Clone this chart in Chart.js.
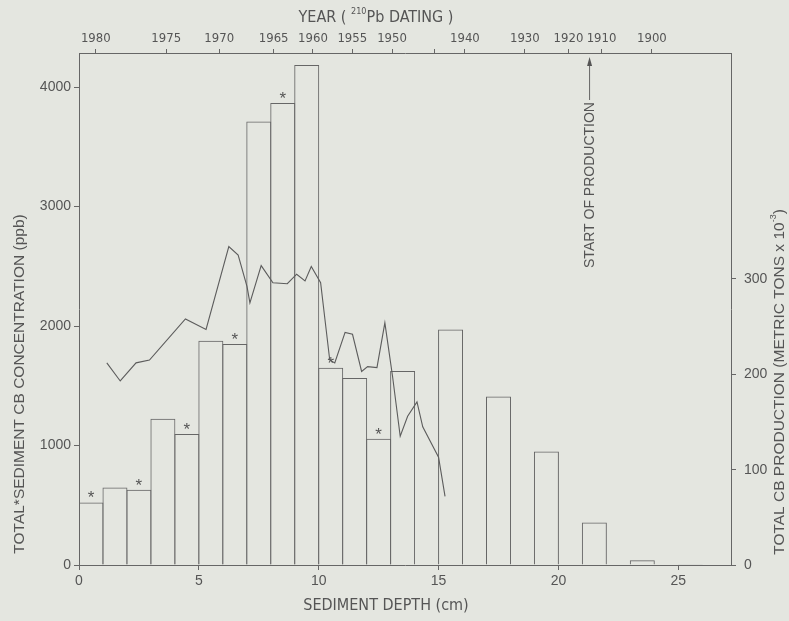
<!DOCTYPE html>
<html>
<head>
<meta charset="utf-8">
<script src="https://cdn.jsdelivr.net/npm/chart.js@4.4.1/dist/chart.umd.min.js"></script>
<style>
	html, body { margin: 0; padding: 0; background: #e4e6e0; }
	#wrap { width: 789px; height: 621px; }
</style>
</head>
<body>
<div id="wrap"><canvas id="chart" width="789" height="621"></canvas></div>
<script>
// sediment depth bins (cm, left edge) and concentration (ppb)
const binStart = [0, 1, 2, 3, 4, 5, 6, 7, 8, 9, 10, 11, 12, 13, 15, 17, 19, 21, 23, 25];
const concentration = [524, 649, 630, 1224, 1096, 1877, 1850, 3712, 3866, 4184, 1650, 1565, 1057, 1624, 1970, 1410, 950, 356, 40, 6];
const starred = [1, 0, 1, 0, 1, 0, 1, 0, 1, 0, 1, 0, 1, 0, 0, 0, 0, 0, 0, 0];

// CB production (metric tons x 10^-3) vs depth
const prodDepth = [1.16, 1.72, 2.38, 2.94, 4.44, 5.30, 6.25, 6.64, 7.01, 7.13, 7.60, 8.09, 8.69, 9.08, 9.43, 9.69, 10.08,
	10.46, 10.67, 11.1, 11.41, 11.79, 12.04, 12.43, 12.76, 13.08, 13.4, 13.71, 14.1, 14.34, 15.0, 15.27];
const production = [212, 193, 212, 215, 258, 247, 334, 325, 292, 275, 314, 296, 295, 305, 298, 313, 296,
	215, 212, 244, 242, 203, 208, 207, 254, 198, 135, 156, 171, 145, 113, 72];

// 210Pb dating, top axis
const yearPos = [0.7, 3.64, 5.85, 8.12, 9.76, 11.4, 13.06, 14.82, 16.1, 18.6, 20.42, 21.8, 23.9];
const yearLabels = ['1980', '1975', '1970', '1965', '1960', '1955', '1950', '', '1940', '1930', '1920', '1910', '1900'];

const depthTicks = [0, 5, 10, 15, 20, 25];
const concTicks = [0, 1000, 2000, 3000, 4000];
const prodTicks = [0, 100, 200, 300];
const productionStart = 21.3;

const INK = '#555555';
const LINE = '#666666';
const FONT = "'Liberation Sans', Arial, sans-serif";
const NARROW = "'DejaVu Sans Condensed', 'Liberation Sans', Arial, sans-serif";

const barData = binStart.map((s, i) => ({x: s + 0.5, y: concentration[i]}));
const lineData = prodDepth.map((d, i) => ({x: d, y: production[i]}));

function fixedTicks(list) {
	return function(scale) {
		scale.ticks = list.map(v => ({value: v}));
	};
}

// draws sup-scripted text centred on 0,0 in the current transform
function drawParts(ctx, parts, family) {
	let total = 0;
	parts.forEach(p => { ctx.font = p[1] + 'px ' + family; total += ctx.measureText(p[0]).width; });
	let cx = -total / 2;
	ctx.textAlign = 'left';
	parts.forEach(p => {
		ctx.font = p[1] + 'px ' + family;
		ctx.fillText(p[0], cx, p[2]);
		cx += ctx.measureText(p[0]).width;
	});
}

const decorations = {
	id: 'decorations',
	afterDatasetsDraw(chart) {
		const ctx = chart.ctx;
		const x = chart.scales.x;
		const y = chart.scales.y;
		const area = chart.chartArea;
		ctx.save();
		ctx.fillStyle = INK;
		ctx.strokeStyle = LINE;

		// asterisks over starred samples
		ctx.font = '17px ' + FONT;
		ctx.textAlign = 'center';
		ctx.textBaseline = 'alphabetic';
		binStart.forEach((s, i) => {
			if(!starred[i])
				return;
			ctx.fillText('*', x.getPixelForValue(s + 0.5), y.getPixelForValue(concentration[i]) + 1);
		});

		// start of production arrow
		const ax = x.getPixelForValue(productionStart);
		ctx.lineWidth = 1;
		ctx.beginPath();
		ctx.moveTo(ax, area.top + 8);
		ctx.lineTo(ax, area.top + 47);
		ctx.stroke();
		ctx.beginPath();
		ctx.moveTo(ax, area.top + 4);
		ctx.lineTo(ax - 2.5, area.top + 13);
		ctx.lineTo(ax + 2.5, area.top + 13);
		ctx.closePath();
		ctx.fill();
		ctx.save();
		ctx.translate(ax, area.top + 132);
		ctx.rotate(-Math.PI / 2);
		ctx.font = '14px ' + FONT;
		ctx.textBaseline = 'middle';
		ctx.textAlign = 'center';
		ctx.fillText('START OF PRODUCTION', 0, 1);
		ctx.restore();

		// axis titles
		ctx.textBaseline = 'middle';
		ctx.font = '16px ' + NARROW;
		ctx.textAlign = 'center';
		ctx.fillText('SEDIMENT DEPTH (cm)', 386, 606);

		ctx.save();
		ctx.translate(376, 18);
		drawParts(ctx, [['YEAR ( ', 16, 0], ['210', 9, -6], ['Pb DATING )', 16, 0]], NARROW);
		ctx.restore();

		ctx.save();
		ctx.translate(20, 384);
		ctx.rotate(-Math.PI / 2);
		ctx.font = '15.5px ' + FONT;
		ctx.textAlign = 'center';
		ctx.fillText('TOTAL*SEDIMENT CB CONCENTRATION (ppb)', 0, 0);
		ctx.restore();

		ctx.save();
		ctx.translate(780, 382);
		ctx.rotate(-Math.PI / 2);
		drawParts(ctx, [['TOTAL CB PRODUCTION (METRIC TONS x 10', 15.5, 0], ['-3', 9, -6], [')', 15.5, 0]], FONT);
		ctx.restore();

		ctx.restore();
	}
};

const axisGrid = {display: true, drawOnChartArea: false, drawTicks: true, tickLength: 5, color: LINE, offset: false};
const axisBorder = {display: true, color: LINE, width: 1};
const plain = value => String(value);

new Chart(document.getElementById('chart'), {
	type: 'bar',
	data: {
		datasets: [
			{
				type: 'line',
				data: lineData,
				xAxisID: 'x',
				yAxisID: 'y2',
				borderColor: '#5c5c5c',
				borderWidth: 1.1,
				pointRadius: 0,
				tension: 0,
				fill: false,
				order: 0,
			},
			{
				type: 'bar',
				data: barData,
				xAxisID: 'x',
				yAxisID: 'y',
				backgroundColor: 'rgba(0,0,0,0)',
				borderColor: LINE,
				borderWidth: 1,
				borderSkipped: 'start',
				barPercentage: 1.042,
				categoryPercentage: 1,
				order: 1,
			},
		]
	},
	options: {
		responsive: false,
		animation: false,
		layout: {padding: 0},
		plugins: {
			legend: {display: false},
			tooltip: {enabled: false},
		},
		scales: {
			x: {
				type: 'linear',
				position: 'bottom',
				offset: false,
				min: 0,
				max: 27.2,
				afterBuildTicks: fixedTicks(depthTicks),
				afterFit: s => { s.height = 56; },
				grid: axisGrid,
				border: axisBorder,
				ticks: {color: INK, font: {family: FONT, size: 14}, padding: 3, maxRotation: 0, callback: plain},
			},
			xTop: {
				type: 'linear',
				position: 'top',
				offset: false,
				min: 0,
				max: 27.2,
				afterBuildTicks: fixedTicks(yearPos),
				afterFit: s => { s.height = 53; },
				grid: {display: true, drawOnChartArea: false, drawTicks: true, tickLength: 4, color: LINE, offset: false},
				border: axisBorder,
				ticks: {
					color: INK,
					font: {family: NARROW, size: 13},
					padding: 3,
					maxRotation: 0,
					autoSkip: false,
					callback: (value, index) => yearLabels[index],
				},
			},
			y: {
				type: 'linear',
				position: 'left',
				min: 0,
				max: 4285,
				afterBuildTicks: fixedTicks(concTicks),
				afterFit: s => { s.width = 79; },
				grid: axisGrid,
				border: axisBorder,
				ticks: {color: INK, font: {family: FONT, size: 14}, padding: 3, callback: plain},
			},
			y2: {
				type: 'linear',
				position: 'right',
				min: 0,
				max: 537,
				afterBuildTicks: fixedTicks(prodTicks),
				afterFit: s => { s.width = 58; },
				grid: axisGrid,
				border: axisBorder,
				ticks: {color: INK, font: {family: FONT, size: 14}, padding: 8, callback: plain},
			},
		}
	},
	plugins: [decorations],
});
</script>
</body>
</html>
